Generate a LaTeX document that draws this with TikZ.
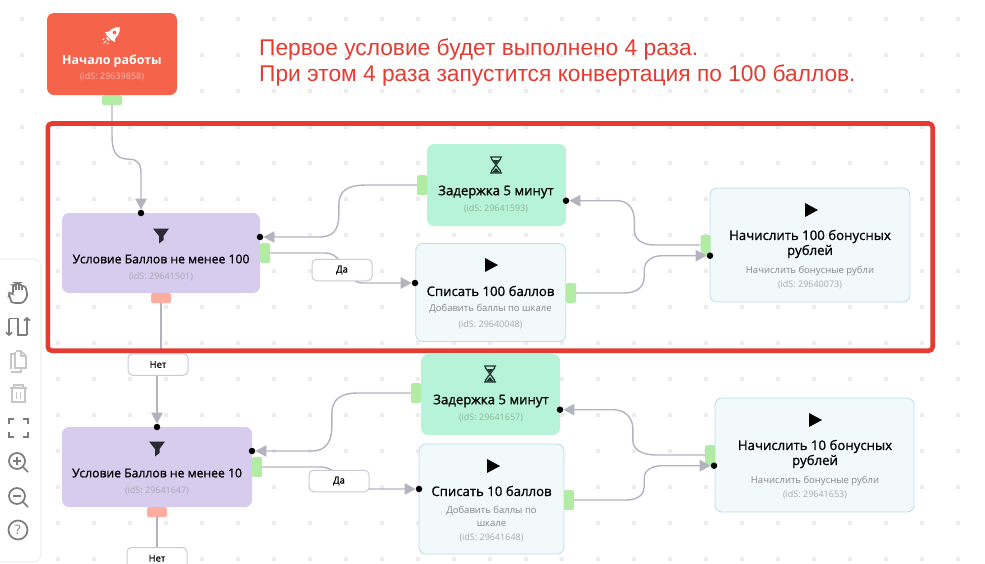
\documentclass[tikz,border=0pt]{standalone}
\usepackage{fontspec}
\setmainfont{Open Sans}
\newfontfamily\titlefont{Open Sans}[FakeBold=0.9]
\newfontfamily\redfont{Liberation Sans}
\usetikzlibrary{arrows.meta}

\definecolor{startred}{HTML}{F4634A}
\definecolor{condlilac}{HTML}{D7CBEE}
\definecolor{delaymint}{HTML}{B7F3D8}
\definecolor{actionfill}{HTML}{F1F9FB}
\definecolor{actionline}{HTML}{BCDCEB}
\definecolor{portgreen}{HTML}{B1EBA4}
\definecolor{portred}{HTML}{FFAD9E}
\definecolor{wiregray}{HTML}{B3B3C0}
\definecolor{framered}{HTML}{E53B30}
\definecolor{griddot}{HTML}{ECECEC}
\definecolor{toolgray}{HTML}{7C7C7C}
\definecolor{toolpale}{HTML}{C6C6C6}
\definecolor{idgray}{HTML}{A8A8B2}
\definecolor{subgray}{HTML}{85858D}
\definecolor{glassdark}{HTML}{1F3A33}
\definecolor{funneldark}{HTML}{2B2B33}

\tikzset{
  blockbox/.style={rounded corners=7pt, inner sep=0pt},
  startbox/.style={blockbox, fill=startred},
  condbox/.style={blockbox, fill=condlilac},
  delaybox/.style={blockbox, fill=delaymint},
  actionbox/.style={blockbox, fill=actionfill, draw=actionline, line width=0.8pt},
  portyes/.style={fill=portgreen, rounded corners=1.5pt, inner sep=0pt},
  portno/.style={fill=portred, rounded corners=1.5pt, inner sep=0pt, minimum width=20pt, minimum height=10pt},
  pin/.style={circle, fill=black, inner sep=0pt, minimum size=6.5pt},
  wire/.style={color=wiregray, line width=1.4pt},
  arrowed/.style={wire, -{Triangle[length=11pt, width=11.5pt]}},
  answer/.style={fill=white, draw=wiregray!70, line width=1pt, rounded corners=4.5pt, inner sep=0pt,
    minimum width=60pt, minimum height=21.5pt, font=\titlefont\fontsize{9.5}{11}\selectfont},
  title/.style={align=center, inner sep=0pt, font=\titlefont\fontsize{13.2}{15}\selectfont},
  condtitle/.style={title, font=\titlefont\fontsize{12.2}{15}\selectfont},
  starttitled/.style={title, text=white, font=\bfseries\fontsize{12.4}{15}\selectfont},
  subline/.style={align=center, inner sep=0pt, text=subgray, font=\fontsize{9.5}{13}\selectfont},
  idline/.style={inner sep=0pt, text=idgray, font=\fontsize{9}{11}\selectfont},
  rednote/.style={anchor=west, inner sep=0pt, text=framered, font=\redfont\fontsize{22.75}{26}\selectfont},
  tool/.style={color=toolgray, line width=1.7pt},
  toolpaled/.style={color=toolpale, line width=1.7pt},
  playicon/.pic={\fill (-6,-7) -- (7,0) -- (-6,7) -- cycle;},
  glassicon/.pic={
    \draw [line width=1.3pt, color=glassdark] (-6,-8) -- (6,-8) (-6,8) -- (6,8)
      (-4.5,-8) -- (-4.5,-6) -- (4.5,6) -- (4.5,8) (4.5,-8) -- (4.5,-6) -- (-4.5,6) -- (-4.5,8);
    \fill [color=glassdark] (-3,-5) -- (3,-5) -- (0,-1) -- cycle (-4,7.5) -- (4,7.5) -- (0,3) -- cycle;
  },
  funnelicon/.pic={\fill [color=funneldark] (-8,-7.5) -- (8,-7.5) -- (2.5,0) -- (2.5,4) -- (-2,7.5) -- (-2,0) -- cycle;},
  rocketicon/.pic={
    \begin{scope}[rotate=-45]
      \fill [color=white, even odd rule] (0,-11) .. controls (5,-7) and (5,-2) .. (4,4) -- (-4,4)
        .. controls (-5,-2) and (-5,-7) .. (0,-11) (0,-3.5) circle (2pt);
      \fill [color=white] (-4,-1) -- (-7,3) -- (-3.5,3.5) -- cycle (4,-1) -- (7,3) -- (3.5,3.5) -- cycle (-2,5) rectangle (2,6.5);
      \draw [color=white, line width=1pt] (-3,8) -- (-3,10) (0,8) -- (0,12) (3,8) -- (3,10);
    \end{scope}
  },
}

\begin{document}
\begin{tikzpicture}[x=1pt, y=-1pt]

\useasboundingbox (0,0) rectangle (985,563);

\foreach \gx in {22,58,...,958}
  \foreach \gy in {19,55,...,559}
    \fill [color=griddot] (\gx-2,\gy-2) rectangle +(4,4);

\node [rednote] (firstnote) at (259,49.5) {Первое условие будет выполнено 4 раза.};
\node [rednote] (secondnote) at (259,75.5) {При этом 4 раза запустится конвертация по 100 баллов.};

\node [startbox, minimum width=130pt, minimum height=82pt] (startblock) at (112,54) {};
\node [condbox, minimum width=198pt, minimum height=80pt] (condhundred) at (161,253) {};
\node [delaybox, minimum width=139pt, minimum height=82pt] (delayhundred) at (496.5,185) {};
\node [actionbox, minimum width=150pt, minimum height=98pt] (takehundred) at (490.75,292.5) {};
\node [actionbox, minimum width=200pt, minimum height=114pt] (givehundred) at (810,245) {};
\node [condbox, minimum width=190pt, minimum height=80pt] (condten) at (157,467) {};
\node [delaybox, minimum width=139pt, minimum height=81pt] (delayten) at (490.5,394.5) {};
\node [actionbox, minimum width=145pt, minimum height=110pt] (taketen) at (491.5,499) {};
\node [actionbox, minimum width=199pt, minimum height=114pt] (giveten) at (814.5,455) {};

\node [starttitled] (starttitle) at (112,61) {Начало работы};
\node [idline, text=white!55!startred] (startid) at (112,77) {(idS: 29639858)};
\node [condtitle] (condhundredtitle) at (161,259) {Условие Баллов не менее 100};
\node [idline] (condhundredid) at (161,277) {(idS: 29641501)};
\node [title] (delayhundredtitle) at (496,192) {Задержка 5 минут};
\node [idline, text=idgray!85!green] (delayhundredid) at (496,209) {(idS: 29641593)};
\node [title] (takehundredtitle) at (490.5,291) {Списать 100 баллов};
\node [subline] (takehundredsub) at (490.5,309) {Добавить баллы по шкале};
\node [idline] (takehundredid) at (490.5,325) {(idS: 29640048)};
\node [title] (givehundredtitle) at (810,244) {Начислить 100 бонусных\\рублей};
\node [subline] (givehundredsub) at (810,271) {Начислить бонусные рубли};
\node [idline] (givehundredid) at (810,285) {(idS: 29640073)};
\node [condtitle] (condtentitle) at (157,473) {Условие Баллов не менее 10};
\node [idline] (condtenid) at (157,491) {(idS: 29641647)};
\node [title] (delaytentitle) at (491,401) {Задержка 5 минут};
\node [idline, text=idgray!85!green] (delaytenid) at (491,418) {(idS: 29641657)};
\node [title] (taketentitle) at (491.5,491) {Списать 10 баллов};
\node [subline] (taketensub) at (491.5,516.5) {Добавить баллы по\\шкале};
\node [idline] (taketenid) at (491.5,538) {(idS: 29641648)};
\node [title] (giventitle) at (815,454) {Начислить 10 бонусных\\рублей};
\node [subline] (givensub) at (815,481) {Начислить бонусные рубли};
\node [idline] (givenid) at (815,495) {(idS: 29641653)};

\pic at (112,35) {rocketicon};
\pic at (161,236) {funnelicon};
\pic at (496,165) {glassicon};
\pic at (491,265) {playicon};
\pic at (811,210) {playicon};
\pic at (157,449) {funnelicon};
\pic at (490,374) {glassicon};
\pic at (493,466) {playicon};
\pic at (815,420) {playicon};

\node [portyes, minimum width=20pt, minimum height=10pt] (startout) at (112,100) {};
\node [portyes, minimum width=10pt, minimum height=20pt] (condhundredyes) at (265,253) {};
\node [portno] (condhundredno) at (161,298) {};
\node [portyes, minimum width=10pt, minimum height=20pt] (delayhundredout) at (422,185) {};
\node [portyes, minimum width=10pt, minimum height=20pt] (takehundredout) at (571,293) {};
\node [portyes, minimum width=10pt, minimum height=20pt] (givehundredout) at (705.5,245) {};
\node [portyes, minimum width=10pt, minimum height=20pt] (condtenyes) at (257,467) {};
\node [portno] (condtenno) at (157,512) {};
\node [portyes, minimum width=10pt, minimum height=20pt] (delaytenout) at (416,393) {};
\node [portyes, minimum width=10pt, minimum height=20pt] (taketenout) at (569,500) {};
\node [portyes, minimum width=10pt, minimum height=20pt] (giventenout) at (710,455) {};

\node [pin] (condhundredin) at (141,213) {};
\node [pin] (condhundredback) at (260,237) {};
\node [pin] (delayhundredback) at (566,200.7) {};
\node [pin] (takehundredin) at (415,283) {};
\node [pin] (givehundredin) at (710,255.7) {};
\node [pin] (condtenin) at (157,427) {};
\node [pin] (condtenback) at (252,451) {};
\node [pin] (delaytenback) at (560,409.7) {};
\node [pin] (taketenin) at (419,489) {};
\node [pin] (giventenin) at (714,465.7) {};

\draw [arrowed] (startout.south) -- ++(0,30) .. controls +(0,15) and +(-14,0) .. ++(17,24) .. controls +(8,0) and +(0,-10) .. ++(12,14) -- (condhundredin);

\draw [arrowed] (delayhundredout.west) -- ++(-50,0) .. controls +(-20,0) and +(0,-14) .. ++(-28,20) -- ++(0,10) .. controls +(0,16) and +(12,0) .. ++(-19,22) -- (condhundredback);
\draw [arrowed] (condhundredyes.east) -- ++(55,0) .. controls +(20,0) and +(-20,0) .. ++(38,30) -- (takehundredin);
\draw [arrowed] (takehundredout.east) -- ++(48,0) .. controls +(14,0) and +(0,9) .. ++(20,-16.3) -- ++(0,-6) .. controls +(0,-10) and +(-10,0) .. ++(18,-15) -- (givehundredin);
\draw [arrowed] (givehundredout.west) -- ++(-45,0) .. controls +(-14,0) and +(0,9) .. ++(-21,-15) -- ++(0,-10) .. controls +(0,-12) and +(10,0) .. ++(-17,-19.3) -- (delayhundredback);

\draw [arrowed] (delaytenout.west) -- ++(-53,0) .. controls +(-18,0) and +(0,-14) .. ++(-26,21) -- ++(0,14) .. controls +(0,14) and +(12,0) .. ++(-19,23) -- (condtenback);
\draw [arrowed] (condtenyes.east) -- ++(58,0) .. controls +(20,0) and +(-20,0) .. ++(40,22) -- (taketenin);
\draw [arrowed] (taketenout.east) -- ++(52,0) .. controls +(12,0) and +(0,7) .. ++(18,-13) -- ++(0,-9) .. controls +(0,-8) and +(-10,0) .. ++(18,-12.3) -- (giventenin);
\draw [arrowed] (giventenout.west) -- ++(-48,0) .. controls +(-16,0) and +(0,9) .. ++(-24,-15) -- ++(0,-12) .. controls +(0,-11) and +(10,0) .. ++(-19,-18.3) -- (delaytenback);

\node [answer] (yeshundred) at (342,270) {Да};
\node [answer] (yesten) at (339,481) {Да};
\node [answer] (nohundred) at (158,364.5) {Нет};
\node [answer, anchor=north] (noten) at (157,547) {Нет};

\draw [wire] (condhundredno.south) -- (condhundredno.south |- nohundred.north);
\draw [arrowed] (nohundred.south -| condtenin) -- (condtenin);
\draw [wire] (condtenno.south) -- (noten.north -| condtenno);

\draw [color=framered, line width=4.6pt, rounded corners=4pt] (47.8,123.5) rectangle (932.7,350.7);

\filldraw [color=griddot!70!white, fill=white, line width=1.5pt, rounded corners=8pt] (-12,259) rectangle (41,562);

\begin{scope}[tool]
  \draw [rounded corners=2.5pt] (11.5,302) -- (9,295) -- (9.5,292) -- (13,295) -- (13,286) (13,290) -- (13,285) -- (16,284.5) -- (16,290) (16,285) -- (16,283) -- (19,283) -- (19,290) (19,284) -- (22,284.5) -- (22,290) (22,286) -- (25.5,286) -- (27.5,296) -- (23,303) -- (13,303) -- (11.5,302);
  \draw [-{Straight Barb[length=2.5pt, width=6pt]}] (9,319) -- (9,336);
  \draw (9,318.5) -- (18,318.5) -- (18,335) -- (27,335);
  \draw [-{Straight Barb[length=2.5pt, width=6pt]}] (27,335) -- (27,317);
  \draw (9,424) -- (9,419) -- (14,419) (23,419) -- (28,419) -- (28,424) (9,432) -- (9,437) -- (14,437) (23,437) -- (28,437) -- (28,432);
  \draw (17,461) circle (8);
  \draw (23,467) -- (28,472) (13,461) -- (21,461) (17,457) -- (17,465);
  \draw (17,496) circle (8);
  \draw (23,502) -- (28,507) (13,496) -- (21,496);
  \draw (18,530) circle (9.5);
  \node [inner sep=0pt, text=toolgray, font=\fontsize{13}{13}\selectfont] (helpmark) at (18,530) {?};
\end{scope}

\begin{scope}[toolpaled]
  \draw (16,351) -- (21,351) -- (26,356) -- (26,368) -- (15,368) -- (15,352) (21,351) -- (21,356) -- (26,356);
  \draw (15,354) -- (11,354) -- (11,369) (11,372) -- (21,372) -- (21,368);
  \draw (10,388) -- (27,388) (14,388) -- (14,385) -- (23,385) -- (23,388) (12,388) -- (12,402) -- (25,402) -- (25,388) (16.5,392) -- (16.5,399) (20.5,392) -- (20.5,399);
\end{scope}

\end{tikzpicture}
\end{document}
